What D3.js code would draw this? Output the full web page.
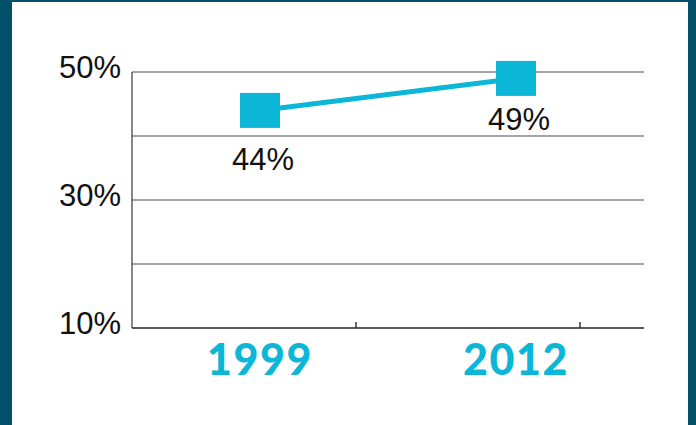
<!DOCTYPE html>
<html>
<head>
<meta charset="utf-8">
<script src="https://cdn.jsdelivr.net/npm/d3@7"></script>
<style>
html,body{margin:0;padding:0;background:#03506b;}
svg{display:block;}
</style>
</head>
<body>
<svg id="chart" width="696" height="425"></svg>
<script>
const categories = ["1999", "2012"];
const values = [44, 49];
const valueLabels = ["44%", "49%"];
const yGridValues = [10, 20, 30, 40, 50];
const yTickLabels = ["10%", "30%", "50%"];
const yTickValues = [10, 30, 50];
const xTickMarks = [0.375, 1.25];

(function () {
const teal = "#0bb6d7";
const svg = d3.select("#chart");
svg.append("rect").attr("x", 0).attr("y", 0).attr("width", 696).attr("height", 425).attr("fill", "#03506b");
svg.append("rect").attr("x", 12).attr("y", 2).attr("width", 676).attr("height", 423).attr("fill", "#ffffff");

const mLeft = 132, mRight = 644, mTop = 72, mBottom = 328;
const x = d3.scaleLinear().domain([-0.5, 1.5]).range([mLeft, mRight]);
const y = d3.scaleLinear().domain([10, 50]).range([mBottom, mTop]);

// gridlines
svg.append("g").selectAll("line").data(yGridValues.filter(v => v !== 10)).join("line")
  .attr("x1", mLeft).attr("x2", mRight)
  .attr("y1", d => y(d)).attr("y2", d => y(d))
  .attr("stroke", "#4a4a4a").attr("stroke-width", 1.2);

// axes
svg.append("line").attr("x1", mLeft).attr("x2", mLeft).attr("y1", mTop).attr("y2", mBottom)
  .attr("stroke", "#3a3a3a").attr("stroke-width", 1.2);
svg.append("line").attr("x1", mLeft).attr("x2", mRight).attr("y1", mBottom).attr("y2", mBottom)
  .attr("stroke", "#222").attr("stroke-width", 1.5);
svg.append("g").selectAll("line").data(xTickMarks).join("line")
  .attr("x1", d => x(d)).attr("x2", d => x(d))
  .attr("y1", mBottom - 6).attr("y2", mBottom)
  .attr("stroke", "#333").attr("stroke-width", 1.5);

// y labels
svg.append("g").selectAll("text").data(yTickValues).join("text")
  .attr("x", mLeft - 11).attr("y", d => y(d) + 6)
  .attr("text-anchor", "end")
  .attr("font-family", "Liberation Sans, Arial, sans-serif")
  .attr("font-size", 31)
  .attr("fill", "#111")
  .text((d, i) => yTickLabels[i]);

// x labels
svg.append("g").selectAll("text").data(categories).join("text")
  .attr("x", (d, i) => x(i))
  .attr("y", 375)
  .attr("text-anchor", "middle")
  .attr("font-family", "Lato, sans-serif")
  .attr("font-weight", 900)
  .attr("font-size", 43)
  .attr("letter-spacing", 1.5)
  .attr("fill", teal)
  .text(d => d);

// line
const line = d3.line().x((d, i) => x(i)).y(d => y(d));
svg.append("path").datum(values).attr("d", line)
  .attr("fill", "none").attr("stroke", teal).attr("stroke-width", 5);

// squares
svg.append("g").selectAll("rect").data(values).join("rect")
  .attr("x", (d, i) => x(i) - 20).attr("y", d => y(d) - 17.5)
  .attr("width", 40).attr("height", 35).attr("fill", teal);

// value labels
const labelDy = [60, 52];
svg.append("g").selectAll("text").data(values).join("text")
  .attr("x", (d, i) => x(i) + 3)
  .attr("y", (d, i) => y(d) + labelDy[i])
  .attr("text-anchor", "middle")
  .attr("font-family", "Liberation Sans, Arial, sans-serif")
  .attr("font-size", 31)
  .attr("fill", "#111")
  .text((d, i) => valueLabels[i]);
})();
</script>
</body>
</html>
